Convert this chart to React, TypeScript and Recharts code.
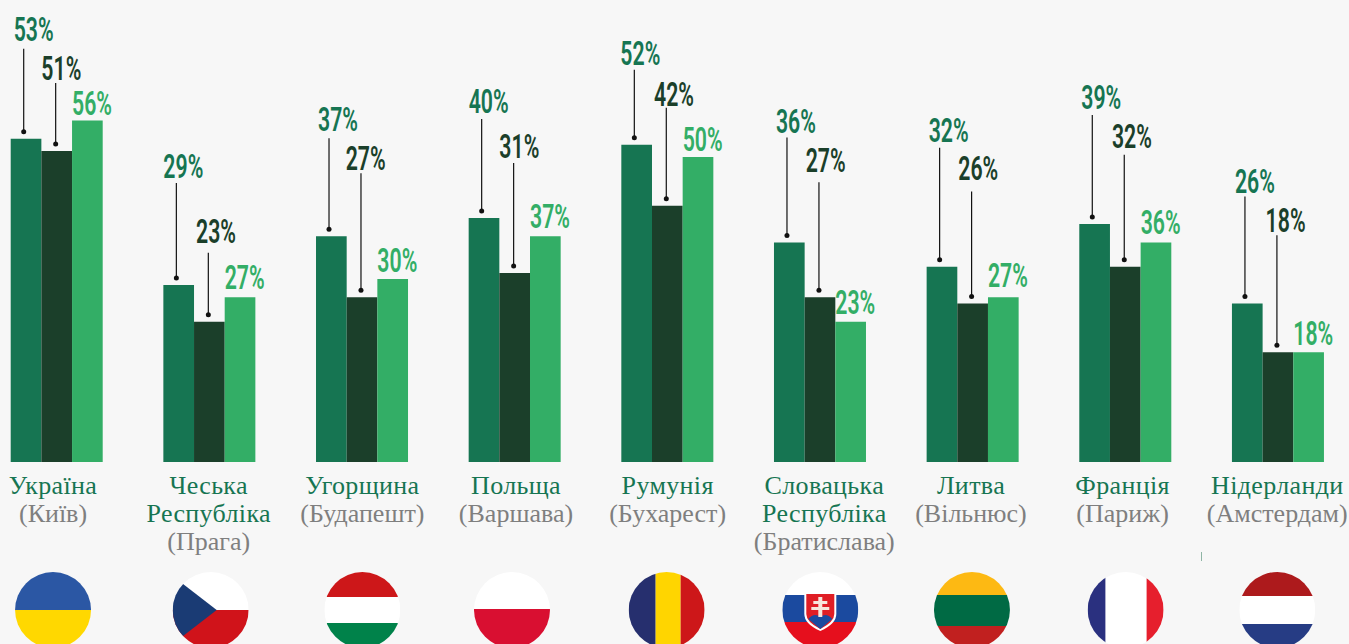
import React from 'react';
import { BarChart, Bar, XAxis, YAxis, LabelList } from 'recharts';

const countries = [
  'Україна',
  'Чеська Республіка',
  'Угорщина',
  'Польща',
  'Румунія',
  'Словацька Республіка',
  'Литва',
  'Франція',
  'Нідерланди',
];
const cities = ['Київ', 'Прага', 'Будапешт', 'Варшава', 'Бухарест', 'Братислава', 'Вільнюс', 'Париж', 'Амстердам'];

const capital = [53, 29, 37, 40, 52, 36, 32, 39, 26];
const cityRate = [51, 23, 27, 31, 42, 27, 26, 32, 18];
const rest = [56, 27, 30, 37, 50, 23, 27, 36, 18];

// how far each label sits above its bar, the leader line fills the gap
const liftA = [98, 107, 105, 105, 80, 109, 125, 115, 110];
const liftB = [71, 79, 127, 115, 100, 125, 123, 119, 120];
const liftC = [5, 8, 7, 8, 6, 8, 10, 8, 7];
// gap between a label and the top of its leader line
const gapA = [8, 5, 7, 6, 5, 4, 6, 6, 3];
const gapB = [3, 10, 3, 5, 2, 10, 11, 7, 3];
// label starts, measured from the left edge of the bar
const startA = [3, 0, 2, 0, -1, 2, 2, 2, 3];
const startB = [0, 2, -1, 0, 2, 1, 1, 2, 3];
// the text and flags are not quite centred on the bar groups
const textNudge = [-4, -1, 0, 1, 0, 4, -2, -3, -1];
const flagNudge = [-4, 1, 0, -3, -1, 0, -1, 0, -1];

const GREEN = '#167552';
const DARK = '#1b3f2a';
const LIGHT = '#33ae66';
const PX_PER_UNIT = 6.1;
const BASELINE = 462;

const tableData = countries.map((name, i) => ({
  name,
  a: capital[i],
  b: cityRate[i],
  c: rest[i],
}));

const Stripes = ({ colors, stops }: { colors: string[]; stops: number[] }) => (
  <>
    {colors.map((c, i) => (
      <rect key={c + i} x={-38} y={stops[i]} width={76} height={stops[i + 1] - stops[i]} fill={c} />
    ))}
  </>
);

const Columns = ({ colors, stops }: { colors: string[]; stops: number[] }) => (
  <>
    {colors.map((c, i) => (
      <rect key={c + i} x={stops[i]} y={-38} width={stops[i + 1] - stops[i]} height={76} fill={c} />
    ))}
  </>
);

const flag = (index: number) => {
  switch (index) {
    case 0:
      return <Stripes colors={['#2b57a4', '#ffd800']} stops={[-38, 0, 38]} />;
    case 1:
      return (
        <>
          <Stripes colors={['#ffffff', '#d0131a']} stops={[-38, 0, 38]} />
          <polygon points="-38,-34 6,0 -38,34" fill="#1a3b74" />
        </>
      );
    case 2:
      return <Stripes colors={['#cd1719', '#ffffff', '#00824a']} stops={[-38, -13, 13, 38]} />;
    case 3:
      return <Stripes colors={['#ffffff', '#d90f31']} stops={[-38, -1, 38]} />;
    case 4:
      return <Columns colors={['#262f6e', '#ffd500', '#cd1719']} stops={[-38, -11, 14, 38]} />;
    case 5:
      return (
        <>
          <Stripes colors={['#ffffff', '#1b4a9f', '#e60f1d']} stops={[-38, -15, 12, 38]} />
          <path d="M-16,-18 H16 V4 Q16,14 0,21 Q-16,14 -16,4 Z" fill="#ffffff" />
          <path d="M-14,-16 H14 V4 Q14,12 0,19 Q-14,12 -14,4 Z" fill="#e01e25" />
          <path d="M-12,9 Q-6,2 0,7 Q6,2 12,9 Q6,14 0,19 Q-6,14 -12,9 Z" fill="#1b4a9f" />
          <path d="M-2,-13 H2 V-9 H7 V-6 H2 V-3 H9 V0 H2 V7 H-2 V0 H-9 V-3 H-2 V-6 H-7 V-9 H-2 Z" fill="#f7e6dc" />
        </>
      );
    case 6:
      return <Stripes colors={['#fdb913', '#006a44', '#c1201f']} stops={[-38, -15, 16, 38]} />;
    case 7:
      return <Columns colors={['#2a307f', '#ffffff', '#e61f2d']} stops={[-38, -20, 21, 38]} />;
    default:
      return <Stripes colors={['#ad1a1c', '#ffffff', '#263c84']} stops={[-38, -14, 14, 38]} />;
  }
};

const CountryTick = (props: any) => {
  const { x, y, payload, index } = props;
  const lines = String(payload.value).split(' ');
  const cx = x + textNudge[index];
  return (
    <g>
      <text textAnchor="middle" fontFamily="'Liberation Serif', serif" fontSize={26}>
        {lines.map((line, i) => (
          <tspan key={line} x={cx} y={y + 32 + i * 28} fill={GREEN} letterSpacing={0.35}>
            {line}
          </tspan>
        ))}
        <tspan x={cx} y={y + 32 + lines.length * 28} fill="#7f7f7f">
          ({cities[index]})
        </tspan>
      </text>
      <clipPath id={`flag-${index}`}>
        <circle cx={0} cy={0} r={38} />
      </clipPath>
      <g transform={`translate(${x + flagNudge[index]},${y + 148})`} clipPath={`url(#flag-${index})`}>
        {flag(index)}
      </g>
    </g>
  );
};

const Percent = ({ x, y, fill, value }: { x: number; y: number; fill: string; value: number }) => (
  <text
    x={x}
    y={y}
    fill={fill}
    fontFamily="Roboto, sans-serif"
    fontSize={33}
    fontWeight={600}
    textLength={40}
    lengthAdjust="spacingAndGlyphs"
  >
    {value}%
  </text>
);

const leaderLabel =
  (lifts: number[], gaps: number[], starts: number[], fill: string, lineDx: number) => (props: any) => {
    const { x, y, value, index } = props;
    const top = y - lifts[index];
    const lineX = x + lineDx;
    return (
      <g>
        <Percent x={x + starts[index]} y={top} fill={fill} value={value} />
        <line x1={lineX} x2={lineX} y1={top + gaps[index]} y2={y - 7} stroke="#111" strokeWidth={1.2} />
        <circle cx={lineX} cy={y - 7} r={2.5} fill="#111" />
      </g>
    );
  };

const plainLabel = (props: any) => {
  const { x, y, value, index } = props;
  return <Percent x={x} y={y - liftC[index]} fill={LIGHT} value={value} />;
};

const App = () => {
  return (
    <div
      style={{
        position: 'absolute',
        left: 0,
        top: 0,
        width: 1349,
        height: 644,
        overflow: 'hidden',
        background: '#f7f7f7',
      }}
    >
      <BarChart
        width={1349}
        height={644}
        data={tableData}
        barGap={0}
        barSize={30.67}
        margin={{ top: 0, right: -5.6, bottom: 0, left: -19.3 }}
      >
        <XAxis
          dataKey="name"
          height={644 - BASELINE}
          interval={0}
          axisLine={false}
          tickLine={false}
          tickSize={0}
          tickMargin={0}
          tick={CountryTick}
        />
        <YAxis hide domain={[0, BASELINE / PX_PER_UNIT]} />
        <Bar dataKey="a" fill={GREEN} isAnimationActive={false}>
          <LabelList dataKey="a" content={leaderLabel(liftA, gapA, startA, GREEN, 13)} />
        </Bar>
        <Bar dataKey="b" fill={DARK} isAnimationActive={false}>
          <LabelList dataKey="b" content={leaderLabel(liftB, gapB, startB, DARK, 14.3)} />
        </Bar>
        <Bar dataKey="c" fill={LIGHT} isAnimationActive={false}>
          <LabelList dataKey="c" content={plainLabel} />
        </Bar>
      </BarChart>
      <div style={{ position: 'absolute', left: 1201, top: 552, width: 1, height: 9, background: '#8fb5a5' }} />
    </div>
  );
};

export default App;
